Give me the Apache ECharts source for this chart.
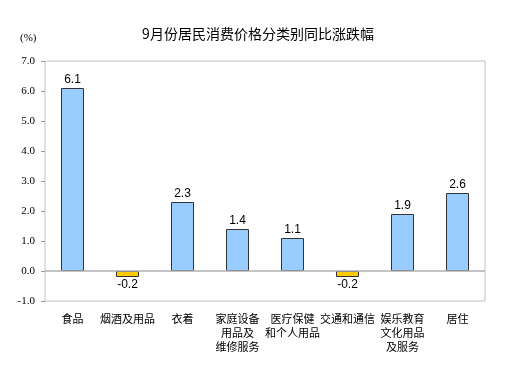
<!DOCTYPE html>
<html>
<head>
<meta charset="utf-8">
<script src="https://cdn.jsdelivr.net/npm/echarts@6/dist/echarts.min.js"></script>
<style>
  html, body { margin: 0; padding: 0; background: #fff; }
  #chart { width: 515px; height: 378px; }
</style>
</head>
<body>
<div id="chart"></div>
<script>
  // 分类及同比涨跌幅(%)
  var categories = ['食品', '烟酒及用品', '衣着', '家庭设备\n用品及\n维修服务', '医疗保健\n和个人用品', '交通和通信', '娱乐教育\n文化用品\n及服务', '居住'];
  var values = [6.1, -0.2, 2.3, 1.4, 1.1, -0.2, 1.9, 2.6];

  var chart = echarts.init(document.getElementById('chart'));

  var option = {
    backgroundColor: '#fff',
    animation: false,
    title: {
      text: '9月份居民消费价格分类别同比涨跌幅',
      left: 253,
      textAlign: 'center',
      top: 22,
      textStyle: { fontSize: 14, fontWeight: 'normal', color: '#000', fontFamily: 'Noto Sans CJK SC' }
    },
    graphic: [{
      type: 'text',
      left: 20,
      top: 33,
      style: { text: '(%)', fontSize: 11, fill: '#000', fontFamily: 'Liberation Serif' }
    }],
    grid: {
      left: 45, right: 30, top: 61, bottom: 77,
      show: true, borderColor: '#c0c0c0', borderWidth: 1
    },
    xAxis: {
      type: 'category',
      data: categories,
      axisLine: { show: false, onZero: false },
      axisTick: { show: false },
      axisLabel: {
        interval: 0,
        margin: 11,
        color: '#000',
        fontSize: 11,
        lineHeight: 14,
        fontFamily: 'Noto Sans CJK SC'
      }
    },
    yAxis: {
      type: 'value',
      min: -1, max: 7, interval: 1,
      axisLine: { show: false },
      axisTick: { show: true, length: 4, lineStyle: { color: '#999' } },
      splitLine: { show: false },
      axisLabel: {
        margin: 10,
        color: '#000',
        fontSize: 11,
        fontFamily: 'Liberation Serif',
        formatter: function (v) { return v.toFixed(1); }
      }
    },
    series: [{
      type: 'bar',
      barWidth: 23,
      data: values.map(function (v) {
        return {
          value: v,
          itemStyle: { color: v < 0 ? '#ffcc00' : '#99ccff', borderColor: '#333', borderWidth: 1 },
          label: { position: v < 0 ? 'bottom' : 'top' }
        };
      }),
      label: {
        show: true,
        distance: 2,
        color: '#000',
        fontSize: 12,
        fontFamily: 'Liberation Sans',
        formatter: function (p) { return p.value.toFixed(1); }
      },
      markLine: {
        silent: true,
        symbol: 'none',
        label: { show: false },
        lineStyle: { color: '#b0b0b0', type: 'solid', width: 1.5 },
        data: [{ yAxis: 0 }]
      },
      z: 3
    }]
  };

  chart.setOption(option);
</script>
</body>
</html>
